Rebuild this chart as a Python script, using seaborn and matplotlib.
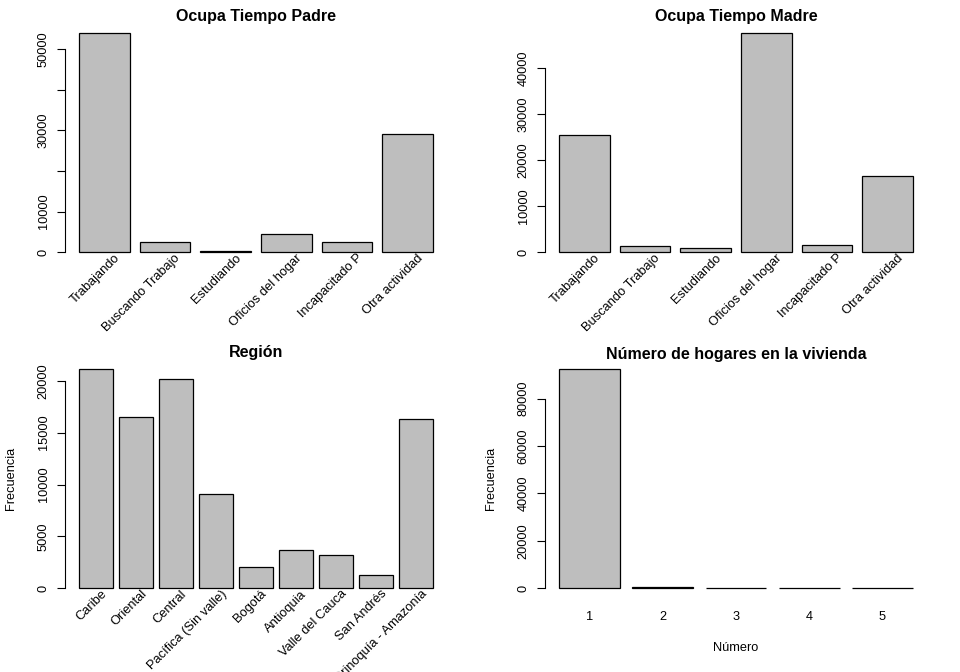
import numpy as np
import matplotlib
matplotlib.use("Agg")
import matplotlib.pyplot as plt
import seaborn as sns

# ── Datos ─────────────────────────────────────────────────────
ocupa_cats = ["Trabajando", "Buscando Trabajo", "Estudiando",
              "Oficios del hogar", "Incapacitado P", "Otra actividad"]
padre_vals = [53950, 2460, 250, 4430, 2460, 29060]
madre_vals = [25430, 1300, 870, 47600, 1520, 16520]

region_cats = ["Caribe", "Oriental", "Central", "Pacífica (Sin valle)", "Bogotá",
               "Antioquia", "Valle del Cauca", "San Andrés", "Orinoquía - Amazonía"]
region_vals = [21160, 16520, 20190, 9080, 2030, 3670, 3190, 1256, 16330]

hogares_cats = ["1", "2", "3", "4", "5"]
hogares_vals = [92540, 420, 25, 6, 2]

padre_ticks = [0, 10000, 20000, 30000, 40000, 50000]
padre_labels = ["0", "10000", "", "30000", "", "50000"]
madre_ticks = [0, 10000, 20000, 30000, 40000]
region_ticks = [0, 5000, 10000, 15000, 20000]
hogares_ticks = [0, 20000, 40000, 60000, 80000]

sns.set_style("white")
plt.rcParams["font.family"] = ["Liberation Sans", "DejaVu Sans"]
plt.rcParams["text.color"] = "black"
plt.rcParams["axes.labelcolor"] = "black"
plt.rcParams["xtick.color"] = "black"
plt.rcParams["ytick.color"] = "black"

BAR_W = 0.833
GRAY = "#BEBEBE"


def base_barplot(ax, cats, vals, title, ticks, ticklabels=None):
    sns.barplot(x=cats, y=vals, ax=ax, color=GRAY, edgecolor="black",
                linewidth=0.9, width=BAR_W, errorbar=None, saturation=1)
    n = len(cats)
    span = n - 1 + BAR_W
    ax.set_xlim(-BAR_W / 2 - 0.04 * span, n - 1 + BAR_W / 2 + 0.04 * span)
    top = max(vals)
    ax.set_ylim(-0.04 * top, 1.04 * top)
    for s in ["top", "right", "bottom"]:
        ax.spines[s].set_visible(False)
    ax.spines["left"].set_bounds(ticks[0], ticks[-1])
    ax.spines["left"].set_linewidth(0.8)
    ax.spines["left"].set_color("black")
    ax.set_yticks(ticks)
    ax.set_yticklabels(ticklabels if ticklabels else [str(t) for t in ticks])
    ax.tick_params(axis="y", length=6, width=0.8, color="black", pad=5,
                   labelsize=9.2, labelrotation=90, left=True, labelcolor="black")
    plt.setp(ax.get_yticklabels(), va="center")
    ax.set_title(title, fontsize=11.5, fontweight="bold", pad=1, color="black")
    ax.grid(False)


def rotated_labels(ax, cats, dx=0.22):
    ax.set_xticks([])
    trans = ax.get_xaxis_transform()
    for i, c in enumerate(cats):
        ax.text(i + dx, 0.02, c, transform=trans, rotation=45, ha="right",
                va="center", rotation_mode="anchor", fontsize=9.3, color="black")


fig = plt.figure(figsize=(9.6, 6.72), dpi=100)
W, H = 382 / 960, 237 / 672
ax1 = fig.add_axes([65 / 960, 1 - 261 / 672, W, H])
ax2 = fig.add_axes([545 / 960, 1 - 261 / 672, W, H])
ax3 = fig.add_axes([65 / 960, 1 - 597 / 672, W, H])
ax4 = fig.add_axes([545 / 960, 1 - 597 / 672, W, H])

# 1. Padre
base_barplot(ax1, ocupa_cats, padre_vals, "Ocupa Tiempo Padre", padre_ticks, padre_labels)
rotated_labels(ax1, ocupa_cats)

# 2. Madre
base_barplot(ax2, ocupa_cats, madre_vals, "Ocupa Tiempo Madre", madre_ticks)
rotated_labels(ax2, ocupa_cats)

# 3. Región
base_barplot(ax3, region_cats, region_vals, "Región", region_ticks)
rotated_labels(ax3, region_cats)
ax3.set_ylabel("Frecuencia", fontsize=9.2)
ax3.yaxis.set_label_coords(-0.142, 0.5)
ax3.yaxis.label.set_va("center")

# 4. Hogares
base_barplot(ax4, hogares_cats, hogares_vals, "Número de hogares en la vivienda", hogares_ticks)
ax4.tick_params(axis="x", length=0, pad=10, labelsize=9.2, labelcolor="black")
ax4.set_ylabel("Frecuencia", fontsize=9.2)
ax4.yaxis.set_label_coords(-0.142, 0.5)
ax4.yaxis.label.set_va("center")
ax4.set_xlabel("Número", fontsize=9.2)
ax4.xaxis.set_label_coords(0.5, -0.215)
ax4.xaxis.label.set_va("center")

fig.savefig("out.png", dpi=100, facecolor="white")
